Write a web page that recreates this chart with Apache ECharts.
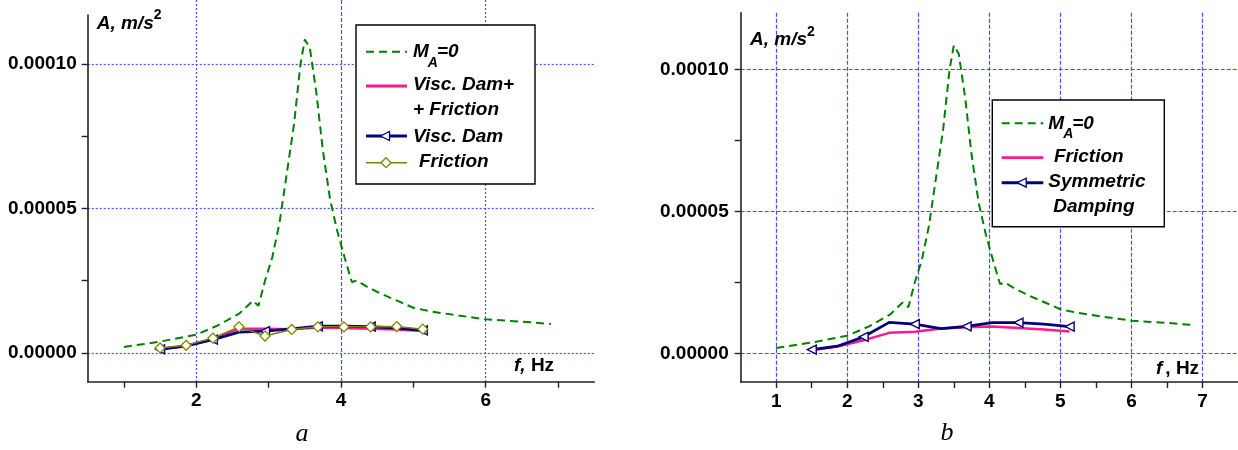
<!DOCTYPE html>
<html>
<head>
<meta charset="utf-8">
<script src="https://cdn.jsdelivr.net/npm/echarts@6/dist/echarts.min.js"></script>
<style>
  html, body { margin: 0; padding: 0; background: #fff; }
  #chart { width: 1238px; height: 450px; }
</style>
</head>
<body>
<div id="chart"></div>
<script>
// Frequencies (Hz) at which the damped responses were computed
const fDamped = [1.5, 1.86, 2.23, 2.59, 2.95, 3.32, 3.68, 4.04, 4.41, 4.77, 5.13];

// Undamped response, M_A = 0 (same curve in both panels)
const fFree = [1.0, 1.5, 2.0, 2.3, 2.6, 2.78, 2.86, 2.95, 3.05, 3.15, 3.25, 3.35, 3.44, 3.5, 3.57, 3.66,
               3.75, 3.85, 3.95, 4.05, 4.15, 4.22, 4.35, 4.55, 4.8, 5.0, 5.25, 5.6, 6.0, 6.5, 6.9];
const aFree = [2.0e-6, 3.9e-6, 6.3e-6, 9.5e-6, 1.37e-5, 1.8e-5, 1.63e-5, 2.5e-5, 3.3e-5, 4.5e-5, 6.2e-5, 7.9e-5,
               1.0e-4, 1.085e-4, 1.055e-4, 9.0e-5, 7.0e-5, 5.3e-5, 4.2e-5, 3.3e-5, 2.45e-5, 2.5e-5, 2.3e-5,
               2.05e-5, 1.78e-5, 1.56e-5, 1.43e-5, 1.3e-5, 1.16e-5, 1.08e-5, 1.0e-5];

// Panel a
const aViscFric = [1.3e-6, 2.3e-6, 4.9e-6, 8.3e-6, 8.3e-6, 8.2e-6, 8.8e-6, 8.6e-6, 8.3e-6, 8.1e-6, 7.6e-6];
const aVisc     = [1.2e-6, 2.4e-6, 4.6e-6, 7.2e-6, 7.5e-6, 8.3e-6, 9.2e-6, 9.2e-6, 9.1e-6, 8.6e-6, 7.8e-6];
const aFric     = [1.7e-6, 2.6e-6, 5.1e-6, 9.0e-6, 5.8e-6, 8.1e-6, 9.0e-6, 9.0e-6, 9.0e-6, 9.1e-6, 8.2e-6];

// Panel b
const bFric = [1.2e-6, 2.5e-6, 4.7e-6, 7.3e-6, 7.7e-6, 8.8e-6, 9.3e-6, 9.5e-6, 9.0e-6, 8.5e-6, 7.8e-6];
const bSym  = [1.4e-6, 2.6e-6, 5.9e-6, 1.1e-5, 1.04e-5, 8.8e-6, 9.6e-6, 1.09e-5, 1.09e-5, 1.04e-5, 9.5e-6];

// Axis ticks
const yTicks    = [0, 2.5e-5, 5e-5, 7.5e-5, 1e-4];
const yLabels   = [0, 5e-5, 1e-4];
const xTicksA   = [1, 2, 3, 4, 5, 6, 7];
const xLabelsA  = [2, 4, 6];
const xTicksB   = [1, 1.5, 2, 2.5, 3, 3.5, 4, 4.5, 5, 5.5, 6, 6.5, 7];
const xLabelsB  = [1, 2, 3, 4, 5, 6, 7];

const FONT = '"Liberation Sans", Arial, sans-serif';
const pairs = (xs, ys) => xs.map((x, i) => [x, ys[i]]);

const ctx = document.createElement('canvas').getContext('2d');
function textWidth(str, font) { ctx.font = font; return ctx.measureText(str).width; }

const AXIS_COLOR = '#222';
// grid line styles (fresh object for each axis): dotted in panel a, dashed in panel b
const dotGrid  = () => ({ color: ['#4a4aff'], type: [2, 2], width: 1.2 });
const dashGrid = () => ({ color: ['#4a4aff'], type: [4, 2], width: 1.2 });

function mainX(gridIndex, ticks, labels) {
  return {
    type: 'value', gridIndex, min: 0.5, max: 7.5, position: 'bottom',
    axisLine: { show: true, onZero: false, lineStyle: { color: AXIS_COLOR, width: 1.6 } },
    axisTick: { show: true, customValues: ticks, length: 6, lineStyle: { color: AXIS_COLOR, width: 1.4 } },
    axisLabel: { show: true, customValues: labels, margin: 10, color: '#000', fontFamily: FONT,
                 fontWeight: 'bold', fontSize: 19, formatter: v => String(v) },
    splitLine: { show: false }
  };
}
function mainY(gridIndex, max, margin) {
  return {
    type: 'value', gridIndex, min: -1e-5, max, position: 'left',
    axisLine: { show: true, onZero: false, lineStyle: { color: AXIS_COLOR, width: 1.6 } },
    axisTick: { show: true, customValues: yTicks, length: 6, lineStyle: { color: AXIS_COLOR, width: 1.4 } },
    axisLabel: { show: true, customValues: yLabels, margin, color: '#000', fontFamily: FONT,
                 fontWeight: 'bold', fontSize: 19, formatter: v => v.toFixed(5) },
    splitLine: { show: false }
  };
}
// invisible axes that only carry grid lines at the given values
function gridX(gridIndex, values, style) {
  return {
    type: 'value', gridIndex, min: 0.5, max: 7.5, position: 'bottom',
    axisLine: { show: false, onZero: false }, axisTick: { show: false, customValues: values },
    axisLabel: { show: false, customValues: values },
    splitLine: { show: !!style, lineStyle: style || {} }
  };
}
function gridY(gridIndex, max, values, style) {
  return {
    type: 'value', gridIndex, min: -1e-5, max, position: 'left',
    axisLine: { show: false, onZero: false }, axisTick: { show: false, customValues: values },
    axisLabel: { show: false, customValues: values },
    splitLine: { show: !!style, lineStyle: style || {} }
  };
}

const maxA = 1.17e-4, maxB = 1.2e-4;
const gA = { left: 87.7, right: 643.7, top: 15, bottom: 68.3 };
const gB = { left: 740.7, right: -2.7, top: 12.7, bottom: 68 };

const grids = [
  Object.assign({}, gA),                              // 0: panel a data
  Object.assign({}, gA, { top: 0 }),                  // 1: panel a vertical grid lines (reach the top edge)
  Object.assign({}, gB)                               // 2: panel b data
];

const xAxes = [
  mainX(0, xTicksA, xLabelsA),                        // 0
  gridX(1, [2, 6], dotGrid()),                        // 1
  gridX(1, [4], dashGrid()),                          // 2
  mainX(2, xTicksB, xLabelsB),                        // 3
  gridX(2, xLabelsB, dashGrid())                      // 4
];

const yAxes = [
  mainY(0, maxA, 11),                                 // 0
  gridY(0, maxA, yLabels, dotGrid()),                 // 1
  gridY(1, maxA, yLabels, null),                      // 2
  mainY(2, maxB, 12),                                 // 3
  gridY(2, maxB, yLabels, dashGrid())                 // 4
];

const TRI = 'path://M0,5L10,0L10,10Z';
const NAVY = '#000080', PINK = '#ff1a8c', GREEN = '#008000', OLIVE = '#808000';

function freeSeries(xi, yi) {
  return { type: 'line', xAxisIndex: xi, yAxisIndex: yi, data: pairs(fFree, aFree), symbol: 'none',
           lineStyle: { color: GREEN, width: 2, type: [8, 5] }, z: 2 };
}
function pinkSeries(xi, yi, ys) {
  return { type: 'line', xAxisIndex: xi, yAxisIndex: yi, data: pairs(fDamped, ys), symbol: 'none',
           lineStyle: { color: PINK, width: 2.5 }, z: 3 };
}
function navySeries(xi, yi, ys) {
  return { type: 'line', xAxisIndex: xi, yAxisIndex: yi, data: pairs(fDamped, ys), symbol: TRI,
           symbolSize: (v, p) => (p.dataIndex % 2 === 0 ? 9 : 0), showAllSymbol: true,
           itemStyle: { color: '#fff', borderColor: NAVY, borderWidth: 1.4 },
           lineStyle: { color: NAVY, width: 2.8 }, z: 4 };
}

const series = [
  freeSeries(0, 0),
  pinkSeries(0, 0, aViscFric),
  navySeries(0, 0, aVisc),
  { type: 'line', xAxisIndex: 0, yAxisIndex: 0, data: pairs(fDamped, aFric), symbol: 'diamond',
    symbolSize: 10, showAllSymbol: true,
    itemStyle: { color: '#fff', borderColor: OLIVE, borderWidth: 1.3 },
    lineStyle: { color: OLIVE, width: 1.5 }, z: 5 },
  freeSeries(3, 3),
  pinkSeries(3, 3, bFric),
  navySeries(3, 3, bSym)
];

// ---- texts and legends ----
const fBI = s => `italic bold ${s}px ${FONT}`;
const fB  = s => `bold ${s}px ${FONT}`;
const Z = 100;

function txt(x, y, text, font, align) {
  return { type: 'text', x, y, z: Z + 2, silent: true,
    style: { text, font, fill: '#000', align: align || 'left', verticalAlign: 'middle' } };
}
function hline(x1, x2, y, color, width, dash) {
  return { type: 'line', z: Z + 1, silent: true, shape: { x1, y1: y, x2, y2: y },
           style: { stroke: color, lineWidth: width, lineDash: dash || null } };
}
function tri(cx, cy, s) {
  return { type: 'polygon', z: Z + 2, silent: true,
           shape: { points: [[cx - s / 2, cy], [cx + s / 2, cy - s / 2], [cx + s / 2, cy + s / 2]] },
           style: { fill: '#fff', stroke: NAVY, lineWidth: 1.3 } };
}
function diamond(cx, cy, s) {
  return { type: 'polygon', z: Z + 2, silent: true,
           shape: { points: [[cx, cy - s / 2], [cx + s / 2, cy], [cx, cy + s / 2], [cx - s / 2, cy]] },
           style: { fill: '#fff', stroke: OLIVE, lineWidth: 1.3 } };
}
function box(x, y, w, h) {
  return { type: 'rect', z: Z, silent: true, shape: { x, y, width: w, height: h },
           style: { fill: '#fff', stroke: '#000', lineWidth: 1.4 } };
}
// M with subscript A, then "=0"
function mA(x, y) {
  const big = fBI(19), small = fBI(14);
  const wM = textWidth('M', big), wA = textWidth('A', small);
  return [txt(x, y, 'M', big), txt(x + wM - 1, y + 11, 'A', small), txt(x + wM + wA - 2, y, '=0', big)];
}
// "A, m/s" with superscript 2
function aUnit(x, y) {
  const big = fBI(19);
  const w = textWidth('A, m/s', big);
  return [txt(x, y, 'A, m/s', big), txt(x + w, y - 8, '2', fB(14))];
}

const SERIF = `italic 26px "Liberation Serif", "Times New Roman", serif`;

const graphics = [
  // panel a legend
  box(356, 25, 179, 159),
  hline(366, 407, 51.7, GREEN, 2, [8, 5]),
  ...mA(413, 52),
  hline(366, 407, 86, PINK, 2.8),
  txt(413, 85, 'Visc. Dam+', fBI(19)),
  txt(413, 110, '+ Friction', fBI(19)),
  hline(366, 407, 136, NAVY, 3),
  tri(385, 136, 9),
  txt(413, 136.5, 'Visc. Dam', fBI(19)),
  hline(366, 407, 162.7, OLIVE, 1.5),
  diamond(386, 162.7, 10),
  txt(419, 161.7, 'Friction', fBI(19)),
  // panel b legend
  box(992.3, 100, 172, 126.7),
  hline(1001.7, 1043.3, 123.3, GREEN, 2, [8, 5]),
  ...mA(1048.3, 123.3),
  hline(1001.7, 1043.3, 157.7, PINK, 2.8),
  txt(1054, 157, 'Friction', fBI(19)),
  hline(1001.7, 1043.3, 182.7, NAVY, 3),
  tri(1021.7, 182.7, 9),
  txt(1048.3, 182, 'Symmetric', fBI(19)),
  txt(1053.3, 206.5, 'Damping', fBI(19)),
  // axis titles
  ...aUnit(96.7, 23.3),
  ...aUnit(750, 40),
  txt(514, 365.5, 'f,', fBI(19)),
  txt(514 + textWidth('f,', fBI(19)), 365.5, ' Hz', fB(19)),
  txt(1156, 369, 'f', fBI(19)),
  txt(1156 + textWidth('f', fBI(19)) + 3, 369, ', Hz', fB(19)),
  // panel captions
  txt(302, 434, 'a', SERIF, 'center'),
  txt(947, 433, 'b', SERIF, 'center')
];

const chart = echarts.init(document.getElementById('chart'), null, { renderer: 'canvas' });
chart.setOption({
  animation: false,
  backgroundColor: '#fff',
  grid: grids,
  xAxis: xAxes,
  yAxis: yAxes,
  series,
  graphic: { elements: graphics }
});
</script>
</body>
</html>
